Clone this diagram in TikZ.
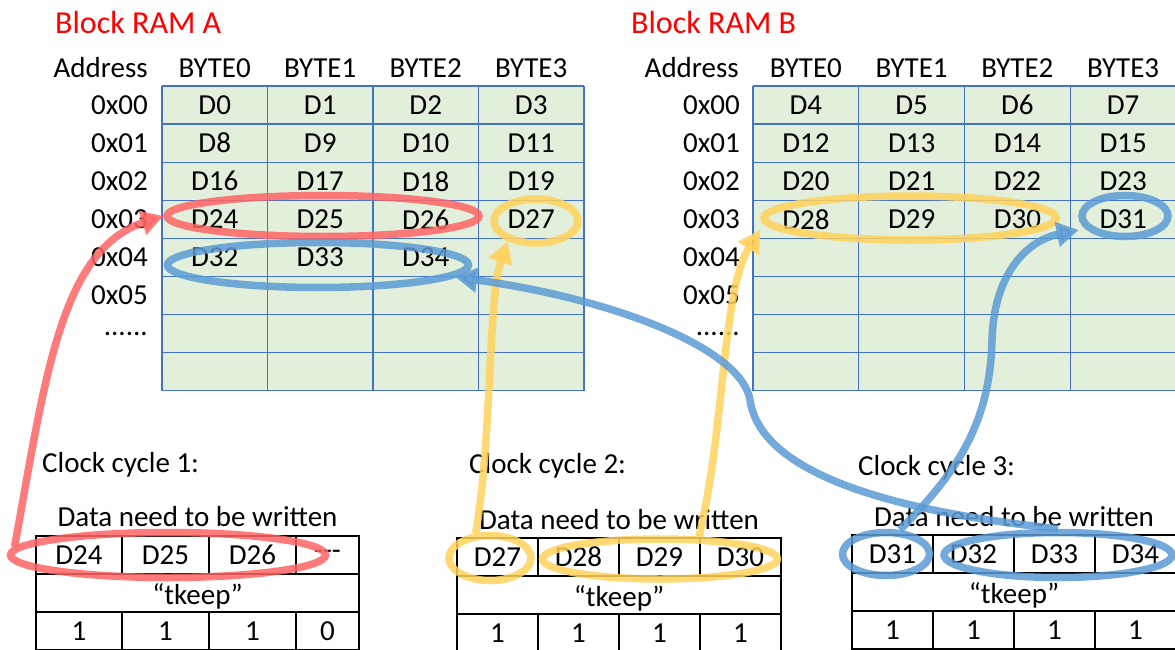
\documentclass[tikz,border=0pt]{standalone}
\usepackage{fontspec}
\setmainfont{Carlito}
\usepackage{tikz}
\usetikzlibrary{shapes.geometric,arrows.meta}
\definecolor{ramfill}{RGB}{226,239,218}
\definecolor{ramline}{RGB}{68,114,196}
\definecolor{titlecol}{RGB}{255,0,0}
\definecolor{redcol}{RGB}{255,100,100}
\definecolor{ylwcol}{RGB}{255,210,90}
\definecolor{blucol}{RGB}{91,155,213}

\begin{document}
\begin{tikzpicture}[x=1pt, y=-1pt,
    every node/.style={font=\fontsize{29}{34}\selectfont, inner sep=0pt},
    tblline/.style={black, line width=1.2pt},
    ring/.style={ellipse, draw, line width=7.5pt, opacity=0.85},
    flow/.style={line width=7.5pt, opacity=0.85, -{Triangle[length=22pt,width=24pt]}}]

    \useasboundingbox (0,0) rectangle (1175,650);

    %% Block RAM A -- grid
    \node[anchor=west, titlecol, font=\fontsize{32}{38}\selectfont] (titA) at (55,23) {Block RAM A};
    \fill[ramfill] (162,86) rectangle (584,390.8);
    \foreach \r in {0,...,8} \draw[ramline, line width=1.2pt] (162,{86+38.1*\r}) -- (584,{86+38.1*\r});
    \foreach \c in {0,...,4} \draw[ramline, line width=1.2pt] ({162+105.5*\c},86) -- ({162+105.5*\c},390.8);
    \node[anchor=east] (adA) at (148,68) {Address};
    \foreach \c in {0,...,3} \node (hA\c) at ({162+105.5*(\c+0.5)},68) {BYTE\c};
    \foreach \r in {0,...,5} \node[anchor=east] (adA\r) at (148,{86+38.1*(\r+0.5)}) {0x0\r};
    \node[anchor=east] (dotA) at (148,334) {......};
    \foreach \r in {0,...,3} {
      \foreach \c in {0,...,3} {
        \pgfmathtruncatemacro\na{8*\r+\c}
        \node (a\r\c) at ({162+105.5*(\c+0.5)},{86+38.1*(\r+0.5)}) {D\na};
      }
    }
    \foreach \c/\t in {0/D32,1/D33,2/D34} \node (a4\c) at ({162+105.5*(\c+0.5)},{86+38.1*4.5}) {\t};

    %% Block RAM B -- grid
    \node[anchor=west, titlecol, font=\fontsize{32}{38}\selectfont] (titB) at (631,23) {Block RAM B};
    \fill[ramfill] (753,86) rectangle (1176,390.8);
    \foreach \r in {0,...,8} \draw[ramline, line width=1.2pt] (753,{86+38.1*\r}) -- (1176,{86+38.1*\r});
    \foreach \c in {0,...,4} \draw[ramline, line width=1.2pt] ({753+105.75*\c},86) -- ({753+105.75*\c},390.8);
    \node[anchor=east] (adB) at (739,68) {Address};
    \foreach \c in {0,...,3} \node (hB\c) at ({753+105.75*(\c+0.5)},68) {BYTE\c};
    \foreach \r in {0,...,5} \node[anchor=east] (adB\r) at (740,{86+38.1*(\r+0.5)}) {0x0\r};
    \node[anchor=east] (dotB) at (740,334) {......};
    \foreach \r in {0,...,3} {
      \foreach \c in {0,...,3} {
        \pgfmathtruncatemacro\nb{8*\r+4+\c}
        \node (b\r\c) at ({753+105.75*(\c+0.5)},{86+38.1*(\r+0.5)}) {D\nb};
      }
    }

    %% Clock cycle 1
    \node[anchor=base west] (cc1) at (42,472) {Clock cycle 1:};
    \node (dn1) at (197.5,517) {Data need to be written};
    \draw[tblline] (36,536) rectangle (359,650);
    \draw[tblline] (36,574) -- (359,574) (36,612) -- (359,612);
    \foreach \x in {122,209,296} \draw[tblline] (\x,536) -- (\x,574) (\x,612) -- (\x,650);
    \foreach \x/\t [count=\i] in {79/D24,165.5/D25,252.5/D26} \node (ta\i) at (\x,555) {\t};
    \node (ta4) at (327.5,555) {-{}-{}-};
    \node[anchor=base] (kp1) at (197.5,604) {“tkeep”};
    \foreach \x/\t [count=\i] in {79/1,165.5/1,252.5/1,327.5/0} \node (ka\i) at (\x,631) {\t};

    %% Clock cycle 2
    \node[anchor=base west] (cc2) at (469,473) {Clock cycle 2:};
    \node (dn2) at (619,520) {Data need to be written};
    \draw[tblline] (457,538) rectangle (781,652);
    \draw[tblline] (457,576) -- (781,576) (457,614) -- (781,614);
    \foreach \x in {538,619,700} \draw[tblline] (\x,538) -- (\x,576) (\x,614) -- (\x,652);
    \foreach \x/\t [count=\i] in {497.5/D27,578.5/D28,659.5/D29,740.5/D30} \node (tb\i) at (\x,557) {\t};
    \node[anchor=base] (kp2) at (619,606) {“tkeep”};
    \foreach \x [count=\i] in {497.5,578.5,659.5,740.5} \node (kb\i) at (\x,633) {1};

    %% Clock cycle 3
    \node[anchor=base west] (cc3) at (858,475) {Clock cycle 3:};
    \node (dn3) at (1014,517) {Data need to be written};
    \draw[tblline] (852,535) rectangle (1176,649);
    \draw[tblline] (852,573) -- (1176,573) (852,611) -- (1176,611);
    \foreach \x in {933,1014,1095} \draw[tblline] (\x,535) -- (\x,573) (\x,611) -- (\x,649);
    \foreach \x/\t [count=\i] in {892.5/D31,973.5/D32,1054.5/D33,1135.5/D34} \node (tc\i) at (\x,554) {\t};
    \node[anchor=base] (kp3) at (1014,603) {“tkeep”};
    \foreach \x [count=\i] in {892.5,973.5,1054.5,1135.5} \node (kc\i) at (\x,630) {1};

    %% Highlight rings
    \node[ring, draw=redcol, minimum width=312, minimum height=41] (redA) at (323,216) {};
    \node[ring, draw=ylwcol, minimum width=84, minimum height=44] (ylwA) at (536,221) {};
    \node[ring, draw=blucol, minimum width=301, minimum height=45] (bluA) at (318,265) {};
    \node[ring, draw=ylwcol, minimum width=292, minimum height=44] (ylwB) at (910,218) {};
    \node[ring, draw=blucol, minimum width=86, minimum height=41] (bluB) at (1125,216) {};
    \node[ring, draw=redcol, minimum width=315, minimum height=45] (red1) at (168,555) {};
    \node[ring, draw=ylwcol, minimum width=82, minimum height=45] (ylw2a) at (490,558) {};
    \node[ring, draw=ylwcol, minimum width=235, minimum height=40] (ylw2b) at (660,559) {};
    \node[ring, draw=blucol, minimum width=87, minimum height=43] (blu3a) at (886,554) {};
    \node[ring, draw=blucol, minimum width=228, minimum height=45] (blu3b) at (1058,555) {};

    %% Write paths
    \draw[flow, redcol] (red1.177) .. controls (45,380) and (60,250) .. (redA.west);
    \draw[flow, ylwcol] (ylw2a.120) .. controls (492,440) and (488,300) .. (ylwA.215);
    \draw[flow, ylwcol] (ylw2b.30) .. controls (725,430) and (722,290) .. ([yshift=-12pt]ylwB.west);
    \draw[flow, blucol] (blu3b.north) .. controls (880,510) and (760,470) .. (750,400)
      .. controls (742,350) and (620,300) .. (bluA.355);
    \draw[flow, blucol] (blu3a.60) .. controls (960,470) and (990,420) .. (992,340)
      .. controls (994,270) and (1030,240) .. ([xshift=-8pt]bluB.200);

\end{tikzpicture}
\end{document}
